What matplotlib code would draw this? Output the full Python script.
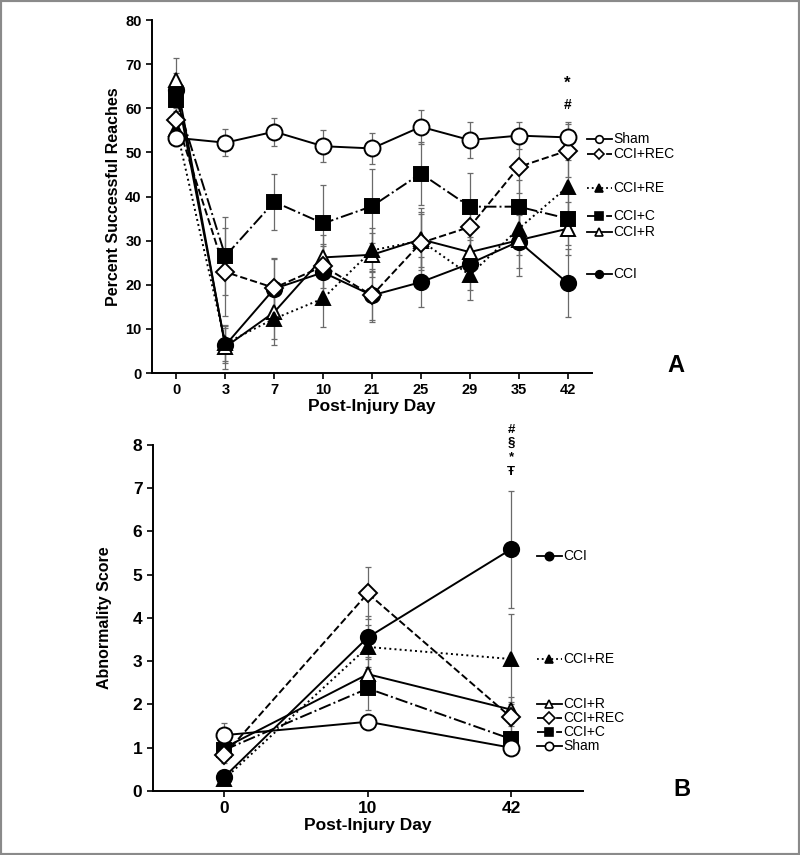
import numpy as np
import matplotlib
matplotlib.use('Agg')
import matplotlib.pyplot as plt
import matplotlib.transforms as mtransforms
from matplotlib.patches import Rectangle

plt.rcParams['font.family'] = ['Liberation Sans', 'DejaVu Sans']

# ---------------- data: panel A (reaching) ----------------
days_A = ['0', '3', '7', '10', '21', '25', '29', '35', '42']
groups_A = ['Sham', 'CCI+REC', 'CCI+RE', 'CCI+C', 'CCI+R', 'CCI']
sham_A = [53.3, 52.2, 54.7, 51.4, 50.9, 55.8, 52.8, 53.8, 53.4]
rec_A = [57.3, 22.9, 19.3, 24.2, 17.6, 29.5, 33.1, 46.7, 50.4]
re_A = [55.4, 6.7, 12.3, 16.9, 27.8, 30.0, 22.2, 32.7, 42.2]
c_A = [61.9, 26.5, 38.8, 33.9, 37.8, 45.2, 37.7, 37.7, 35.0]
r_A = [66.5, 5.9, 13.8, 26.2, 26.8, 30.3, 27.4, 30.1, 32.7]
cci_A = [64.1, 6.3, 19.1, 22.8, 17.6, 20.6, 24.8, 29.8, 20.4]
sham_A_err = [1.5, 3.0, 3.2, 3.6, 3.5, 3.8, 4.0, 3.0, 3.5]
rec_A_err = [3.0, 10.0, 6.5, 5.0, 6.0, 7.0, 6.0, 6.0, 6.0]
re_A_err = [4.0, 4.0, 6.0, 6.5, 5.0, 6.0, 5.7, 6.0, 6.0]
c_A_err = [4.0, 8.9, 6.3, 8.7, 8.4, 7.2, 7.6, 6.0, 6.0]
r_A_err = [5.0, 5.0, 6.0, 5.0, 5.0, 7.0, 5.0, 8.0, 6.0]
cci_A_err = [4.0, 4.0, 7.0, 6.0, 5.5, 5.6, 6.0, 6.0, 7.7]

# ---------------- data: panel B (abnormality) ----------------
days_B = ['0', '10', '42']
groups_B = ['CCI', 'CCI+RE', 'CCI+R', 'CCI+REC', 'CCI+C', 'Sham']
cci_B = [0.33, 3.55, 5.59]
re_B = [0.28, 3.33, 3.05]
r_B = [1.0, 2.7, 1.88]
rec_B = [0.84, 4.57, 1.70]
c_B = [0.95, 2.37, 1.20]
sham_B = [1.29, 1.60, 1.0]
cci_B_err = [0.1, 0.5, 1.35]
re_B_err = [0.1, 0.5, 1.05]
r_B_err = [0.2, 0.4, 0.3]
rec_B_err = [0.2, 0.6, 0.35]
c_B_err = [0.15, 0.5, 0.3]
sham_B_err = [0.27, 0.15, 0.1]

# styles per group: (linestyle, marker, facecolor, markersize)
styles = {
    'Sham':    ('-',  'o', 'white', 11.5),
    'CCI+REC': ('--', 'D', 'white', 9),
    'CCI+RE':  (':',  '^', 'black', 9.5),
    'CCI+C':   ('-.', 's', 'black', 10),
    'CCI+R':   ('-',  '^', 'white', 10),
    'CCI':     ('-',  'o', 'black', 11),
}

# label y positions next to the axes (layout only)
label_y_A = {'Sham': 53.0, 'CCI+REC': 49.6, 'CCI+RE': 41.9, 'CCI+C': 35.6, 'CCI+R': 32.0, 'CCI': 22.4}
label_y_B = {'CCI': 5.43, 'CCI+RE': 3.05, 'CCI+R': 2.02, 'CCI+REC': 1.69, 'CCI+C': 1.36, 'Sham': 1.04}

data_A = {'Sham': (sham_A, sham_A_err), 'CCI+REC': (rec_A, rec_A_err), 'CCI+RE': (re_A, re_A_err),
          'CCI+C': (c_A, c_A_err), 'CCI+R': (r_A, r_A_err), 'CCI': (cci_A, cci_A_err)}
data_B = {'CCI': (cci_B, cci_B_err), 'CCI+RE': (re_B, re_B_err), 'CCI+R': (r_B, r_B_err),
          'CCI+REC': (rec_B, rec_B_err), 'CCI+C': (c_B, c_B_err), 'Sham': (sham_B, sham_B_err)}

fig = plt.figure(figsize=(8, 8.55), dpi=100)
fig.patches.append(Rectangle((0, 0), 1, 1, transform=fig.transFigure, fill=False,
                             edgecolor='#8a8a8a', lw=3, zorder=10))

axA = fig.add_axes([0.19, 0.5637, 0.55, 0.4129])
axB = fig.add_axes([0.191, 0.0749, 0.5375, 0.4047])


def draw_panel(ax, days, groups, data):
    x = np.arange(len(days))
    # error bars first (gray, behind)
    for g in groups:
        y, e = data[g]
        ax.errorbar(x, y, yerr=e, fmt='none', ecolor='#6a6a6a', elinewidth=0.9,
                    capsize=2.5, capthick=0.9, zorder=1)
    order = ['CCI', 'CCI+R', 'CCI+C', 'CCI+RE', 'CCI+REC', 'Sham']
    for i, g in enumerate(order):
        y, e = data[g]
        ls, mk, fc, ms = styles[g]
        ax.plot(x, y, linestyle=ls, color='black', lw=1.4, marker=mk,
                markersize=ms, markerfacecolor=fc, markeredgecolor='black',
                markeredgewidth=1.4, zorder=3 + i)
    ax.set_xticks(x)
    ax.set_xticklabels(days)
    ax.set_xlim(-0.5, len(days) - 0.5)
    for s in ['top', 'right']:
        ax.spines[s].set_visible(False)
    for s in ['left', 'bottom']:
        ax.spines[s].set_linewidth(1.4)
    ax.tick_params(direction='out', width=1.2, length=4)


def draw_labels(ax, groups, label_y, x0, x1, ms, fs):
    trans = mtransforms.blended_transform_factory(ax.transAxes, ax.transData)
    for g in groups:
        ls, mk, fc, _ = styles[g]
        yy = label_y[g]
        ax.plot([x0, x1], [yy, yy], transform=trans, clip_on=False, color='black',
                linestyle=ls, lw=1.3, zorder=5)
        ax.plot([(x0 + x1) / 2], [yy], transform=trans, clip_on=False, marker=mk,
                markersize=ms, markerfacecolor=fc, markeredgecolor='black',
                markeredgewidth=1.2, zorder=6)
        ax.text(x1 + 0.003, yy, g, transform=trans, ha='left', va='center',
                fontsize=fs, clip_on=False)


# ---------------- panel A ----------------
draw_panel(axA, days_A, groups_A, data_A)
axA.set_ylim(0, 80)
axA.set_yticks(np.arange(0, 81, 10))
axA.set_ylabel('Percent Successful Reaches', fontsize=11.5, fontweight='bold')
axA.yaxis.set_label_coords(-0.07, 0.5)
axA.set_xlabel('Post-Injury Day', fontsize=12.5, fontweight='bold', labelpad=1)
for lab in axA.get_xticklabels() + axA.get_yticklabels():
    lab.set_fontweight('bold')
    lab.set_fontsize(10.5)
draw_labels(axA, groups_A, label_y_A, 0.989, 1.045, 5.5, 10)
axA.text(8, 65.7, '*', ha='center', va='center', fontsize=12, fontweight='bold')
axA.text(8, 60.7, '#', ha='center', va='center', fontsize=10, fontweight='bold')
axA.text(1.19, 0.02, 'A', transform=axA.transAxes, fontsize=17, fontweight='bold',
         ha='center', va='center')

# ---------------- panel B ----------------
draw_panel(axB, days_B, groups_B, data_B)
axB.set_ylim(0, 8)
axB.set_yticks(np.arange(0, 9, 1))
axB.set_ylabel('Abnormality Score', fontsize=11.5, fontweight='bold')
axB.yaxis.set_label_coords(-0.095, 0.5)
axB.set_xlabel('Post-Injury Day', fontsize=12.5, fontweight='bold', labelpad=1)
for lab in axB.get_xticklabels() + axB.get_yticklabels():
    lab.set_fontweight('bold')
    lab.set_fontsize(12.5)
draw_labels(axB, groups_B, label_y_B, 0.893, 0.951, 6, 10)
for yy, s in zip([8.34, 8.05, 7.71, 7.37], ['#', '§', '*', 'Ŧ']):
    axB.text(2, yy, s, ha='center', va='center', fontsize=9.5, fontweight='bold',
             clip_on=False)
axB.text(1.23, 0.005, 'B', transform=axB.transAxes, fontsize=17, fontweight='bold',
         ha='center', va='center')

fig.savefig('out.png', dpi=100)
